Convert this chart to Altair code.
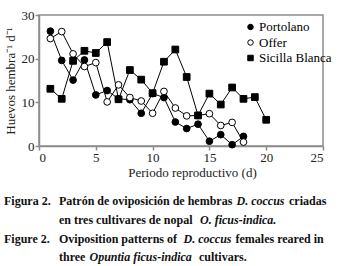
import altair as alt
import pandas as pd

# ---- data ----
series_names = ["Portolano", "Offer", "Sicilla Blanca"]
portolano_x = list(range(1, 19))
portolano_y = [26.3, 19.6, 15.1, 19.7, 11.7, 12.7, 10.8, 10.6, 7.5, 12.0,
               11.1, 5.5, 4.0, 5.0, 1.1, 2.6, 0.3, 2.2]
offer_x = list(range(1, 19))
offer_y = [24.6, 26.2, 21.1, 18.2, 19.1, 10.1, 14.0, 11.1, 10.3, 7.5,
           12.5, 8.7, 6.9, 7.0, 7.4, 4.7, 5.4, 0.9]
sicilla_x = list(range(1, 21))
sicilla_y = [13.1, 10.8, 19.5, 21.8, 21.3, 23.8, 10.7, 17.4, 15.2, 12.1,
             19.3, 22.1, 15.8, 7.0, 12.0, 9.5, 13.4, 10.8, 11.2, 6.0]
x_ticks = [0, 5, 10, 15, 20, 25]
y_ticks = [0, 5, 10, 15, 20, 25, 30]

rows = []
for name, xs, ys in [("Portolano", portolano_x, portolano_y),
                     ("Offer", offer_x, offer_y),
                     ("Sicilla Blanca", sicilla_x, sicilla_y)]:
    for xv, yv in zip(xs, ys):
        rows.append({"serie": name, "x": xv, "y": yv})
df = pd.DataFrame(rows)

FONT = "Liberation Serif"
GRAY = "#8c8c8c"

xenc = alt.X("x:Q", scale=alt.Scale(domain=[0, 25], nice=False),
             axis=alt.Axis(values=x_ticks, title="Periodo reproductivo (d)",
                           grid=False, titleX=153, titleAlign="center",
                           titlePadding=2, labelPadding=1, tickSize=4))
yenc = alt.Y("y:Q", scale=alt.Scale(domain=[0, 30], nice=False),
             axis=alt.Axis(values=y_ticks, title="Huevos hembra⁻¹ d⁻¹",
                           grid=False, labelPadding=1, tickSize=4,
                           titlePadding=4))

line = alt.Chart(df).mark_line(color="black", strokeWidth=1).encode(
    x=xenc, y=yenc, detail="serie:N", order="x:Q")

legend_cfg = dict(
    title=None, orient="none", legendX=205, legendY=5.5, padding=0,
    rowPadding=1.5, labelFontSize=13, labelFont=FONT, labelColor="black",
    labelOffset=2, symbolSize=30, symbolStrokeWidth=1, symbolOpacity=1,
)

points = alt.Chart(df).mark_point(filled=True, opacity=1, strokeWidth=1).encode(
    x="x:Q", y="y:Q",
    shape=alt.Shape("serie:N", scale=alt.Scale(domain=series_names,
                                               range=["circle", "circle", "square"]),
                    legend=alt.Legend(**legend_cfg)),
    fill=alt.Fill("serie:N", scale=alt.Scale(domain=series_names,
                                             range=["black", "white", "black"]),
                  legend=alt.Legend(**legend_cfg)),
    stroke=alt.Stroke("serie:N", scale=alt.Scale(domain=series_names,
                                                 range=["black", "black", "black"]),
                      legend=alt.Legend(**legend_cfg)),
    size=alt.value(45),
)

# ---- caption (layout text) ----
LEFT, TOP = 39, 15
caption = [
    ("Figura 2.", 4, 201, "normal"),
    ("Patrón de oviposición de hembras", 59, 201, "normal"),
    ("D. coccus", 236.5, 201, "italic"),
    ("criadas", 289, 201, "normal"),
    ("en tres cultivares de nopal", 59, 220, "normal"),
    ("O. ficus-indica.", 200, 220, "italic"),
    ("Figure 2.", 4, 238.5, "normal"),
    ("Oviposition patterns of", 59, 238.5, "normal"),
    ("D. coccus", 183.5, 238.5, "italic"),
    ("females reared in", 235.5, 238.5, "normal"),
    ("three", 59, 257, "normal"),
    ("Opuntia ficus-indica", 89.5, 257, "italic"),
    ("cultivars.", 199, 257, "normal"),
]
cap_layers = []
for txt, px, py, style in caption:
    cap_layers.append(
        alt.Chart(pd.DataFrame({"t": [txt]})).mark_text(
            align="left", baseline="middle", font=FONT, fontSize=12,
            fontWeight="bold", fontStyle=style, color="#111111"
        ).encode(x=alt.value(px - LEFT), y=alt.value(py - TOP), text="t:N")
    )

chart = alt.layer(line, points, *cap_layers).properties(
    width=284, height=131,
    autosize=alt.AutoSizeParams(type="none"),
    padding={"left": LEFT, "top": TOP, "right": 16, "bottom": 120},
    background="white",
).configure_view(stroke=GRAY, strokeWidth=1.5).configure_axis(
    domainColor=GRAY, domainWidth=1.5, tickColor=GRAY, tickWidth=1.5,
    labelFont=FONT, labelFontSize=13, labelColor="#222222",
    titleFont=FONT, titleFontSize=13, titleFontWeight="normal", titleColor="#222222",
)

chart.save("out.html", embed_options={"renderer": "svg", "actions": False})
